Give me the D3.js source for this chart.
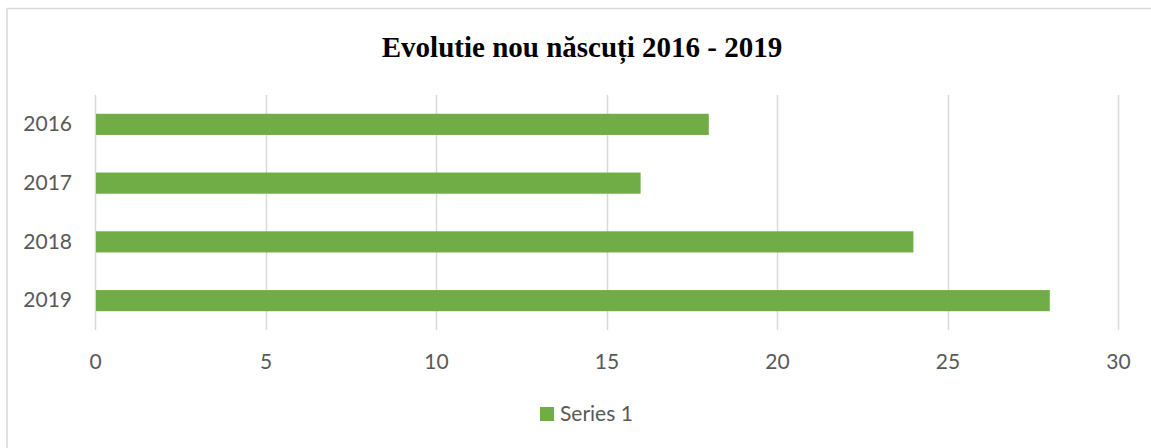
<!DOCTYPE html>
<html>
<head>
<meta charset="utf-8">
<script src="https://cdn.jsdelivr.net/npm/d3@7"></script>
<style>
  body { margin: 0; background: #fff; }
  svg { display: block; }
</style>
</head>
<body>
<svg id="chart" width="1151" height="448"></svg>
<script>
// chart data
var years = ['2016', '2017', '2018', '2019'];
var births = [18, 16, 24, 28];
var xTicks = [0, 5, 10, 15, 20, 25, 30];
var seriesName = 'Series 1';
var title = 'Evolutie nou născuți 2016 - 2019';

var svg = d3.select('#chart');
var green = '#70ad47';
var gridColor = '#d9d9d9';
var labelColor = '#595959';
var font = 'Lato, "Open Sans", sans-serif';

// outer frame
svg.append('rect')
  .attr('x', 7).attr('y', 8.5)
  .attr('width', 1150).attr('height', 445)
  .attr('fill', '#fff')
  .attr('stroke', gridColor)
  .attr('stroke-width', 1.5);

var x = d3.scaleLinear()
  .domain([0, 30])
  .range([95, 1118]);

var y = d3.scaleBand()
  .domain(years)
  .range([95, 330])
  .paddingInner(0.64)
  .paddingOuter(0.32);

// vertical gridlines
svg.append('g')
  .selectAll('line')
  .data(xTicks)
  .enter().append('line')
  .attr('x1', function(d) { return Math.round(x(d)) + 0.5; })
  .attr('x2', function(d) { return Math.round(x(d)) + 0.5; })
  .attr('y1', 95)
  .attr('y2', 330)
  .attr('stroke', gridColor)
  .attr('stroke-width', 1.5);

// bars
svg.append('g')
  .selectAll('rect')
  .data(births)
  .enter().append('rect')
  .attr('x', x(0) + 1)
  .attr('y', function(d, i) { return y(years[i]); })
  .attr('width', function(d) { return x(d) - x(0) - 1; })
  .attr('height', y.bandwidth())
  .attr('fill', green);

// x axis labels
var xAxis = d3.axisBottom(x)
  .tickValues(xTicks)
  .tickSize(0)
  .tickPadding(0);

var gx = svg.append('g')
  .attr('transform', 'translate(0,362)')
  .call(xAxis);
gx.select('.domain').remove();
gx.selectAll('text')
  .attr('dy', '0.35em')
  .attr('y', 0)
  .attr('fill', labelColor)
  .style('font-family', font)
  .style('font-size', '21px');

// y axis labels
var yAxis = d3.axisLeft(y)
  .tickSize(0)
  .tickPadding(0);

var gy = svg.append('g')
  .attr('transform', 'translate(72,0)')
  .call(yAxis);
gy.select('.domain').remove();
gy.selectAll('text')
  .attr('fill', labelColor)
  .style('font-family', font)
  .style('font-size', '21px');

// title
svg.append('text')
  .attr('x', 582)
  .attr('y', 57)
  .attr('text-anchor', 'middle')
  .style('font-family', '"Liberation Serif", "Times New Roman", serif')
  .style('font-weight', 'bold')
  .style('font-size', '29px')
  .attr('fill', '#000')
  .text(title);

// legend
var legend = svg.append('g').attr('transform', 'translate(540,407)');
legend.append('rect')
  .attr('width', 14).attr('height', 14)
  .attr('fill', green);
legend.append('text')
  .attr('x', 20).attr('y', 7)
  .attr('dy', '0.35em')
  .attr('fill', labelColor)
  .style('font-family', font)
  .style('font-size', '21px')
  .text(seriesName);
</script>
</body>
</html>
